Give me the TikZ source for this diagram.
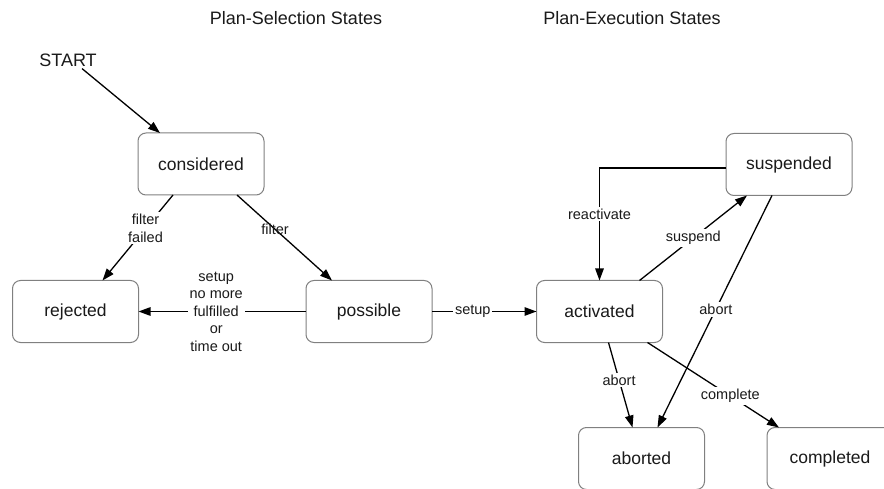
\documentclass[tikz,border=0pt]{standalone}
\usepackage{fontspec}
\setmainfont{Liberation Sans}
\usetikzlibrary{arrows.meta,calc}

\definecolor{boxline}{HTML}{808080}
\definecolor{ink}{HTML}{1A1A1A}

\tikzset{
  state/.style={draw=boxline, line width=1pt, rounded corners=8pt,
    minimum width=126pt, minimum height=62pt, inner sep=0pt, outer sep=0pt,
    text=ink, font=\fontsize{17.5}{21}\selectfont},
  title/.style={text=ink, font=\fontsize{18}{21}\selectfont, inner sep=1pt},
  arr/.style={draw=black, line width=1.3pt,
    -{Triangle[length=12pt,width=8.5pt]}},
  lbl/.style={fill=white, inner sep=2pt, text=ink, align=center,
    font=\fontsize{14.5}{17.5}\selectfont},
  lblclear/.style={lbl, fill=none}
}

\begin{document}
\begin{tikzpicture}[x=1pt,y=-1pt]
  \useasboundingbox (0,0) rectangle (884,489);
  \clip (0,0) rectangle (884,489);
  \fill[white] (0,0) rectangle (884,489);

  % column headings
  \node[title] (selhead) at (296,18) {Plan-Selection States};
  \node[title] (exehead) at (632,18) {Plan-Execution States};
  \node[title] (start) at (68,60) {START};

  % states
  \node[state] (considered) at (201,164)   {considered};
  \node[state] (rejected)   at (75.5,311.5) {rejected};
  \node[state] (possible)   at (369,311.5) {possible};
  \node[state] (activated)  at (599.5,311.5) {activated};
  \node[state] (suspended)  at (789,164.5) {suspended};
  \node[state] (aborted)    at (641.5,458.5) {aborted};
  \node[state] (completed)  at (830,458.5) {completed};

  % plan selection transitions
  \draw[arr] ($(start.south)+(14,1)$) -- ($(considered.north west)+(22,0)$);
  \draw[arr] ($(considered.south west)+(35,0)$) --
    node[lbl, pos=0.39] {filter\\failed} ($(rejected.north west)+(90,0)$);
  \draw[arr] ($(considered.south west)+(99,0)$) --
    node[lblclear, pos=0.4] {filter} ($(possible.north west)+(26,0)$);
  \draw[arr] (possible.west) --
    node[lbl, pos=0.536] {setup\\no more\\fulfilled\\or\\time out} (rejected.east);
  \draw[arr] (possible.east) --
    node[lbl, pos=0.39] {setup} (activated.west);

  % plan execution transitions
  \draw[arr] ($(suspended.west)+(0,3.5)$) -|
    node[lbl, pos=0.705] {reactivate} (activated.north);
  \draw[arr] ($(activated.north west)+(103,0)$) --
    node[lbl, pos=0.5] {suspend} ($(suspended.south west)+(21,0)$);
  \draw[arr] ($(suspended.south west)+(46,0)$) --
    node[lbl, pos=0.49] {abort} ($(aborted.north west)+(79,0)$);
  \draw[arr] ($(activated.south west)+(72,0)$) --
    node[lbl, pos=0.44] {abort} ($(aborted.north west)+(54,0)$);
  \draw[arr] ($(activated.south west)+(111,0)$) --
    node[lbl, pos=0.63] {complete} ($(completed.north west)+(12,0)$);
\end{tikzpicture}
\end{document}
